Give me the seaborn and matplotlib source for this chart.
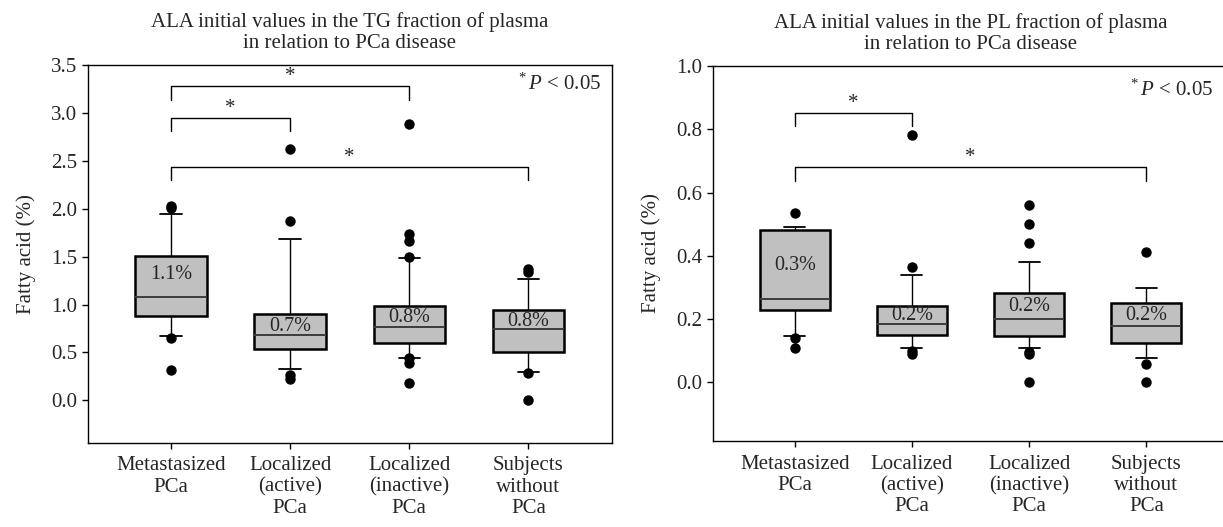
import seaborn as sns
import matplotlib.pyplot as plt
import pandas as pd

# groups on the x axis
groups = ["Metastasized\nPCa", "Localized\n(active)\nPCa", "Localized\n(inactive)\nPCa", "Subjects\nwithout\nPCa"]

# TG fraction: [lower whisker, Q1, median, Q3, upper whisker] per group
tg_box = [
    [0.67, 0.88, 1.08, 1.51, 1.95],
    [0.33, 0.54, 0.68, 0.90, 1.68],
    [0.44, 0.60, 0.77, 0.99, 1.49],
    [0.30, 0.50, 0.75, 0.94, 1.27],
]
tg_out = [
    [2.01, 2.03, 0.65, 0.32],
    [2.62, 1.87, 0.26, 0.22],
    [2.88, 1.74, 1.66, 1.50, 0.44, 0.39, 0.18],
    [1.37, 1.34, 0.29, 0.0],
]
tg_labels = ["1.1%", "0.7%", "0.8%", "0.8%"]
tg_label_y = [1.31, 0.77, 0.868, 0.825]
tg_brackets = [(0, 2, 3.28, 3.14), (0, 1, 2.95, 2.81), (0, 3, 2.44, 2.30)]

# PL fraction
pl_box = [
    [0.146, 0.23, 0.265, 0.482, 0.49],
    [0.109, 0.149, 0.184, 0.241, 0.34],
    [0.109, 0.146, 0.199, 0.284, 0.38],
    [0.077, 0.125, 0.179, 0.25, 0.30],
]
pl_out = [
    [0.534, 0.142, 0.11],
    [0.783, 0.364, 0.10, 0.09],
    [0.562, 0.502, 0.44, 0.095, 0.09, 0.0],
    [0.412, 0.059, 0.0],
]
pl_labels = ["0.3%", "0.2%", "0.2%", "0.2%"]
pl_label_y = [0.371, 0.21, 0.239, 0.21]
pl_brackets = [(0, 1, 0.852, 0.81), (0, 3, 0.682, 0.636)]

sns.set_theme(style="ticks")
plt.rcParams["font.family"] = ["Liberation Serif", "DejaVu Serif"]
plt.rcParams["mathtext.fontset"] = "custom"
plt.rcParams["mathtext.rm"] = "Liberation Serif"
plt.rcParams["mathtext.it"] = "Liberation Serif:italic"
plt.rcParams["axes.edgecolor"] = "black"
plt.rcParams["axes.linewidth"] = 1.0

FS = 15


def long_frame(rows):
    recs = [(g, v) for g, vals in zip(groups, rows) for v in vals]
    return pd.DataFrame(recs, columns=["group", "value"])


def panel(ax, box, out, labels, label_y, brackets, ylim, yticks, title, ptxt_xy):
    sns.boxplot(
        data=long_frame(box), x="group", y="value", order=groups, ax=ax,
        whis=(0, 100), width=0.6, color="#c0c0c0", saturation=1,
        linecolor="black", showfliers=False,
        boxprops={"linewidth": 1.8},
        whiskerprops={"linewidth": 1.0},
        capprops={"linewidth": 1.3},
        medianprops={"linewidth": 1.4, "color": "#3c3c3c"},
    )
    # shorten the whisker caps
    for ln in ax.lines:
        x = ln.get_xdata()
        y = ln.get_ydata()
        if len(x) == 2 and x[0] != x[1] and y[0] == y[1] and abs(x[1] - x[0]) < 0.5:
            c = (x[0] + x[1]) / 2
            ln.set_xdata([c - 0.09, c + 0.09])
    sns.stripplot(
        data=long_frame(out), x="group", y="value", order=groups, ax=ax,
        jitter=False, color="black", size=7.5, linewidth=0,
    )
    for i, (t, y) in enumerate(zip(labels, label_y)):
        ax.text(i, y, t, ha="center", va="center", fontsize=FS - 0.5)
    for a, b, y, yl in brackets:
        ax.plot([a, a, b, b], [yl, y, y, yl], color="black", lw=1.0)
        ax.text((a + b) / 2, y, "*", ha="center", va="bottom", fontsize=FS)
    ax.set_xlim(-0.7, 3.7)
    ax.set_ylim(*ylim)
    ax.set_yticks(yticks)
    ax.set_yticklabels([f"{v:.1f}" for v in yticks])
    ax.set_xlabel("")
    ax.set_ylabel("Fatty acid (%)", fontsize=FS, labelpad=11)
    ax.set_title(title, fontsize=FS, pad=12, linespacing=1.2)
    ax.tick_params(axis="both", labelsize=FS, length=4, width=1.0, color="black")
    ax.tick_params(axis="x", pad=6)
    for lab in ax.get_xticklabels():
        lab.set_linespacing(1.15)
    for s in ax.spines.values():
        s.set_visible(True)
        s.set_color("black")
    ax.text(ptxt_xy[0], ptxt_xy[1], r"$^{*}\,\mathit{P}$ < 0.05", transform=ax.transAxes,
            ha="right", va="center", fontsize=FS)


fig = plt.figure(figsize=(12.23, 5.27), dpi=100)
ax1 = fig.add_axes([0.0717, 0.1603, 0.4285, 0.7163])
ax2 = fig.add_axes([0.5827, 0.1632, 0.4217, 0.7116])

panel(ax1, tg_box, tg_out, tg_labels, tg_label_y, tg_brackets, (-0.44, 3.5),
      [0.0, 0.5, 1.0, 1.5, 2.0, 2.5, 3.0, 3.5],
      "ALA initial values in the TG fraction of plasma\nin relation to PCa disease", (0.98, 0.95))
panel(ax2, pl_box, pl_out, pl_labels, pl_label_y, pl_brackets, (-0.185, 1.0),
      [0.0, 0.2, 0.4, 0.6, 0.8, 1.0],
      "ALA initial values in the PL fraction of plasma\nin relation to PCa disease", (0.97, 0.935))

fig.savefig("out.png", dpi=100)
